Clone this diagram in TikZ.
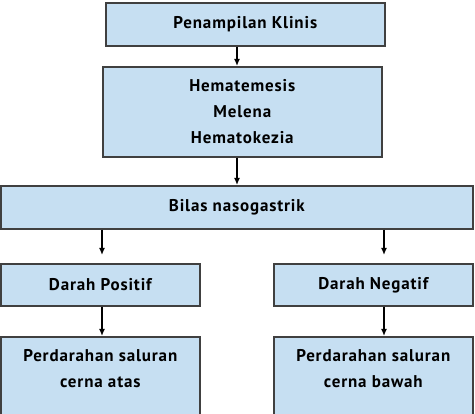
\documentclass[tikz,border=0pt]{standalone}
\usepackage{fontspec}
\setmainfont{PT Sans}[LetterSpace=5]
\usetikzlibrary{arrows.meta, positioning, calc}
\definecolor{cBox}{HTML}{C6DFF2}
\definecolor{cLine}{HTML}{404040}

\begin{document}
\begin{tikzpicture}[
  x=1pt, y=1pt, >={Latex[length=7pt,width=6pt]},
  font=\bfseries\fontsize{17}{26}\selectfont,
  box/.style={draw=cLine, line width=1.6pt, fill=cBox, anchor=north west, inner sep=0pt},
  wide/.style={box, minimum width=279pt},
  half/.style={box, minimum width=199pt, minimum height=42pt},
  tall/.style={half, text height=25pt, text depth=75pt},
  flow/.style={->, line width=1.3pt, draw=black},
]
\useasboundingbox (0,0) rectangle (475,-414);
\clip (0,0) rectangle (475,-414);

% top column
\node[wide, minimum height=43pt] (klinis) at (105,-2) {Penampilan Klinis};
\node[wide, minimum height=90pt, align=center] (gejala) at (102,-66) {Hematemesis\\Melena\\Hematokezia};
\node[box, minimum width=472pt, minimum height=43pt] (bilas) at (0,-185) {Bilas nasogastrik};

% two branches
\node[half] (positif) at (0,-263) {Darah Positif};
\node[half] (negatif) at (273,-263) {Darah Negatif};
\node[tall] (atas) at (0,-336) {\parbox[t]{196pt}{\centering Perdarahan saluran\\cerna atas}};
\node[tall] (bawah) at (273,-336) {\parbox[t]{196pt}{\centering Perdarahan saluran\\cerna bawah}};

% arrows
\coordinate (xm) at (237,0);
\coordinate (xl) at (102,0);
\coordinate (xr) at (384,0);
\draw[flow] (klinis.south -| xm) -- (gejala.north -| xm);
\draw[flow] (gejala.south -| xm) -- (bilas.north -| xm);
\draw[flow, shorten >=8pt] (bilas.south -| xl) -- (positif.north -| xl);
\draw[flow, shorten >=8pt] (bilas.south -| xr) -- (negatif.north -| xr);
\draw[flow] (positif.south -| xl) -- (atas.north -| xl);
\draw[flow] (negatif.south -| xr) -- (bawah.north -| xr);

\end{tikzpicture}
\end{document}
